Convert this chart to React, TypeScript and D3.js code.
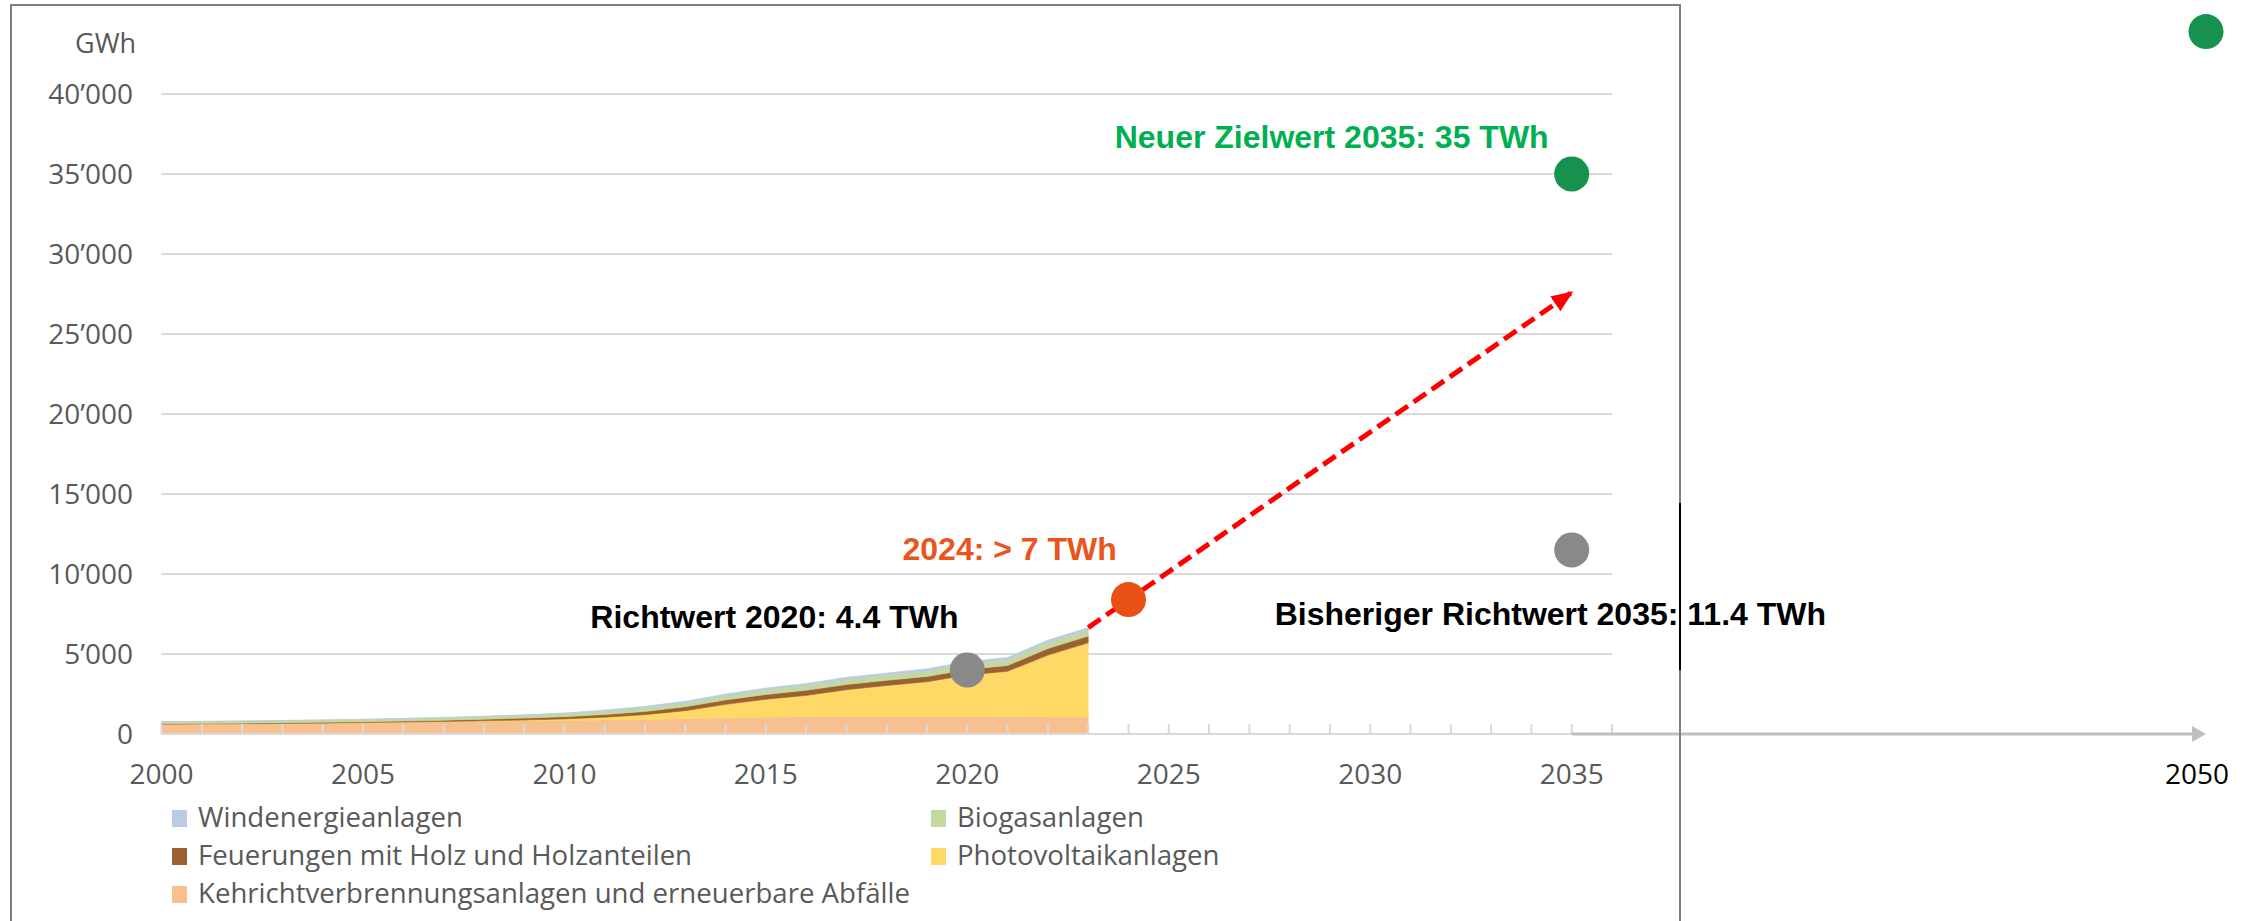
import React from 'react';
import * as d3 from 'd3';

// ---- data (GWh) ----
const YEARS = [2000, 2001, 2002, 2003, 2004, 2005, 2006, 2007, 2008, 2009, 2010, 2011, 2012, 2013, 2014, 2015, 2016, 2017, 2018, 2019, 2020, 2021, 2022, 2023];
const KVA = [600, 610, 620, 640, 660, 690, 720, 750, 790, 820, 850, 880, 910, 960, 1010, 1050, 1080, 1085, 1090, 1090, 1085, 1080, 1070, 1060];
const PV = [11, 13, 16, 18, 19, 21, 23, 27, 37, 54, 94, 168, 299, 500, 842, 1119, 1333, 1683, 1944, 2178, 2599, 2842, 3860, 4640];
const HOLZ = [30, 35, 40, 45, 50, 55, 70, 85, 100, 120, 140, 170, 200, 250, 280, 300, 320, 330, 320, 330, 350, 360, 420, 420];
const BIOGAS = [120, 125, 130, 135, 140, 145, 150, 160, 170, 180, 195, 210, 230, 250, 270, 290, 310, 320, 330, 340, 350, 360, 370, 380];
const WIND = [3, 5, 6, 6, 8, 8, 15, 16, 19, 23, 37, 70, 88, 90, 101, 110, 109, 133, 122, 146, 145, 146, 150, 150];

const SERIES_KEYS = ['kva', 'pv', 'holz', 'biogas', 'wind'];
const SERIES_NAMES = {
  kva: 'Kehrichtverbrennungsanlagen und erneuerbare Abfälle',
  pv: 'Photovoltaikanlagen',
  holz: 'Feuerungen mit Holz und Holzanteilen',
  biogas: 'Biogasanlagen',
  wind: 'Windenergieanlagen',
};
const SERIES_COLORS = {
  kva: '#F8BF8F',
  pv: '#FFD966',
  holz: '#9C6130',
  biogas: '#C4D89F',
  wind: '#B8CCE4',
};
const LEGEND_ROWS = [
  ['wind', 'biogas'],
  ['holz', 'pv'],
  ['kva'],
];

const Y_TICKS = [0, 5000, 10000, 15000, 20000, 25000, 30000, 35000, 40000];
const X_TICK_LABELS = [2000, 2005, 2010, 2015, 2020, 2025, 2030, 2035];
const AXIS_CATEGORIES = [2000, 2001, 2002, 2003, 2004, 2005, 2006, 2007, 2008, 2009, 2010, 2011, 2012, 2013, 2014, 2015, 2016, 2017, 2018, 2019, 2020, 2021, 2022, 2023, 2024, 2025, 2026, 2027, 2028, 2029, 2030, 2031, 2032, 2033, 2034, 2035, 2036];

// targets / markers
const RICHTWERT_2020 = { year: 2020, value: 4000, label: 'Richtwert 2020: 4.4 TWh' };
const POINT_2024 = { year: 2024, value: 8400, label: '2024: > 7 TWh' };
const BISHERIG_2035 = { year: 2035, value: 11500, label: 'Bisheriger Richtwert 2035: 11.4 TWh' };
const NEU_2035 = { year: 2035, value: 35000, label: 'Neuer Zielwert 2035: 35 TWh' };
const ZIEL_2050 = { year: 2050, value: 43900, label: '2050' };
const TREND_END = { year: 2035, value: 27600 };

export default function App() {
  const W = 2258, H = 921;
  const x = d3.scaleLinear().domain([2000, 2036]).range([161.5, 1612]);
  const x2 = d3.scaleLinear().domain([2035, 2050]).range([x(2035), 2206]);
  const y = d3.scaleLinear().domain([0, 40000]).range([734, 94]);

  const table = YEARS.map((yr, i) => ({
    year: yr, kva: KVA[i], pv: PV[i], holz: HOLZ[i], biogas: BIOGAS[i], wind: WIND[i],
  }));
  const stacked = d3.stack().keys(SERIES_KEYS)(table);
  const area = d3.area()
    .x((d) => x(d.data.year))
    .y0((d) => y(d[0]))
    .y1((d) => y(d[1]));

  const last = stacked[stacked.length - 1];
  const lastTop = last[last.length - 1][1];
  const trendStart = { year: YEARS[YEARS.length - 1], value: lastTop };

  const textColor = '#595959';
  const sansFont = "'Open Sans', 'Noto Sans', sans-serif";
  const boldFont = "'Liberation Sans', Arial, sans-serif";
  const fmt = (v) => d3.format(',')(v).replace(/,/g, '\u2019');

  const dotR = 17.5;

  return (
    <svg width={W} height={H} style={{ position: 'absolute', left: 0, top: 0, background: '#fff' }}>
      <defs>
        <marker id="arrow" markerUnits="userSpaceOnUse" markerWidth="24" markerHeight="24" viewBox="0 0 24 24" refX="20" refY="12" orient="auto">
          <path d="M0,3 L22,12 L0,21 Z" fill="#FF0000" />
        </marker>
      </defs>
      <rect x={0} y={0} width={W} height={H} fill="#fff" />

      {/* gridlines */}
      {Y_TICKS.filter((t) => t > 0).map((t) => (
        <line key={t} x1={x(2000)} x2={x(2036)} y1={y(t)} y2={y(t)} stroke="#D9D9D9" strokeWidth={2} />
      ))}

      {/* stacked areas */}
      {stacked.map((s) => (
        <path key={s.key} d={area(s)} fill={SERIES_COLORS[s.key]} stroke={SERIES_COLORS[s.key]} strokeWidth={0.6} />
      ))}

      {/* x axis */}
      <line x1={x(2000)} x2={x(2036)} y1={y(0)} y2={y(0)} stroke="#D9D9D9" strokeWidth={2} />
      {AXIS_CATEGORIES.map((c) => (
        <line key={c} x1={x(c)} x2={x(c)} y1={y(0)} y2={y(0) - 10} stroke="#D9D9D9" strokeWidth={2} />
      ))}
      {/* extension axis to 2050 */}
      <line x1={x2(2035)} x2={x2(2050) - 12} y1={y(0)} y2={y(0)} stroke="#BFBFBF" strokeWidth={3} />
      <path d={`M${x2(2050) - 14},${y(0) - 8} L${x2(2050)},${y(0)} L${x2(2050) - 14},${y(0) + 8} Z`} fill="#BFBFBF" />

      {/* y tick labels */}
      {Y_TICKS.map((t) => (
        <text key={t} x={133} y={y(t)} dy="0.36em" textAnchor="end" fontFamily={sansFont} fontSize={28} fill={textColor}>
          {fmt(t)}
        </text>
      ))}
      <text x={75} y={53} fontFamily={sansFont} fontSize={27} fill={textColor}>GWh</text>

      {/* x tick labels */}
      {X_TICK_LABELS.map((t) => (
        <text key={t} x={x(t)} y={784} textAnchor="middle" fontFamily={sansFont} fontSize={28} fill={textColor}>{t}</text>
      ))}
      <text x={x2(2050) - 9} y={784} textAnchor="middle" fontFamily={sansFont} fontSize={28} fill="#000">{ZIEL_2050.label}</text>

      {/* trend arrow */}
      <line
        x1={x(trendStart.year)} y1={y(trendStart.value)}
        x2={x(TREND_END.year)} y2={y(TREND_END.value)}
        stroke="#FF0000" strokeWidth={5} strokeDasharray="15 7" markerEnd="url(#arrow)"
      />

      {/* dots */}
      <circle cx={x(RICHTWERT_2020.year)} cy={y(RICHTWERT_2020.value)} r={dotR} fill="#898989" />
      <circle cx={x(POINT_2024.year)} cy={y(POINT_2024.value)} r={dotR} fill="#E85014" />
      <circle cx={x(BISHERIG_2035.year)} cy={y(BISHERIG_2035.value)} r={dotR} fill="#898989" />
      <circle cx={x(NEU_2035.year)} cy={y(NEU_2035.value)} r={dotR} fill="#17924E" />
      <circle cx={x2(ZIEL_2050.year)} cy={y(ZIEL_2050.value)} r={dotR} fill="#17924E" />

      {/* annotations */}
      <text x={x(NEU_2035.year) - 457} y={148} fontFamily={boldFont} fontWeight="bold" fontSize={32} fill="#00B050">{NEU_2035.label}</text>
      <text x={x(POINT_2024.year) - 226} y={560} fontFamily={boldFont} fontWeight="bold" fontSize={32} fill="#E9551C">{POINT_2024.label}</text>
      <text x={x(RICHTWERT_2020.year) - 377} y={628} fontFamily={boldFont} fontWeight="bold" fontSize={32} fill="#000">{RICHTWERT_2020.label}</text>
      <text x={x(BISHERIG_2035.year) - 297} y={625} fontFamily={boldFont} fontWeight="bold" fontSize={32} fill="#000">{BISHERIG_2035.label}</text>

      {/* legend */}
      {LEGEND_ROWS.map((row, ri) =>
        row.map((key, ci) => {
          const lx = ci === 0 ? 172 : 931;
          const ly = 827 + ri * 38;
          return (
            <g key={key}>
              <rect x={lx} y={ly - 17} width={15} height={17} fill={SERIES_COLORS[key]} />
              <text x={lx + 26} y={ly} fontFamily={sansFont} fontSize={27.6} fill={textColor}>{SERIES_NAMES[key]}</text>
            </g>
          );
        })
      )}

      {/* frame */}
      <rect x={11} y={5} width={1669} height={H + 20} fill="none" stroke="#7F7F7F" strokeWidth={2} />
      <line x1={1680} x2={1680} y1={503} y2={670} stroke="#000" strokeWidth={2} />
    </svg>
  );
}
